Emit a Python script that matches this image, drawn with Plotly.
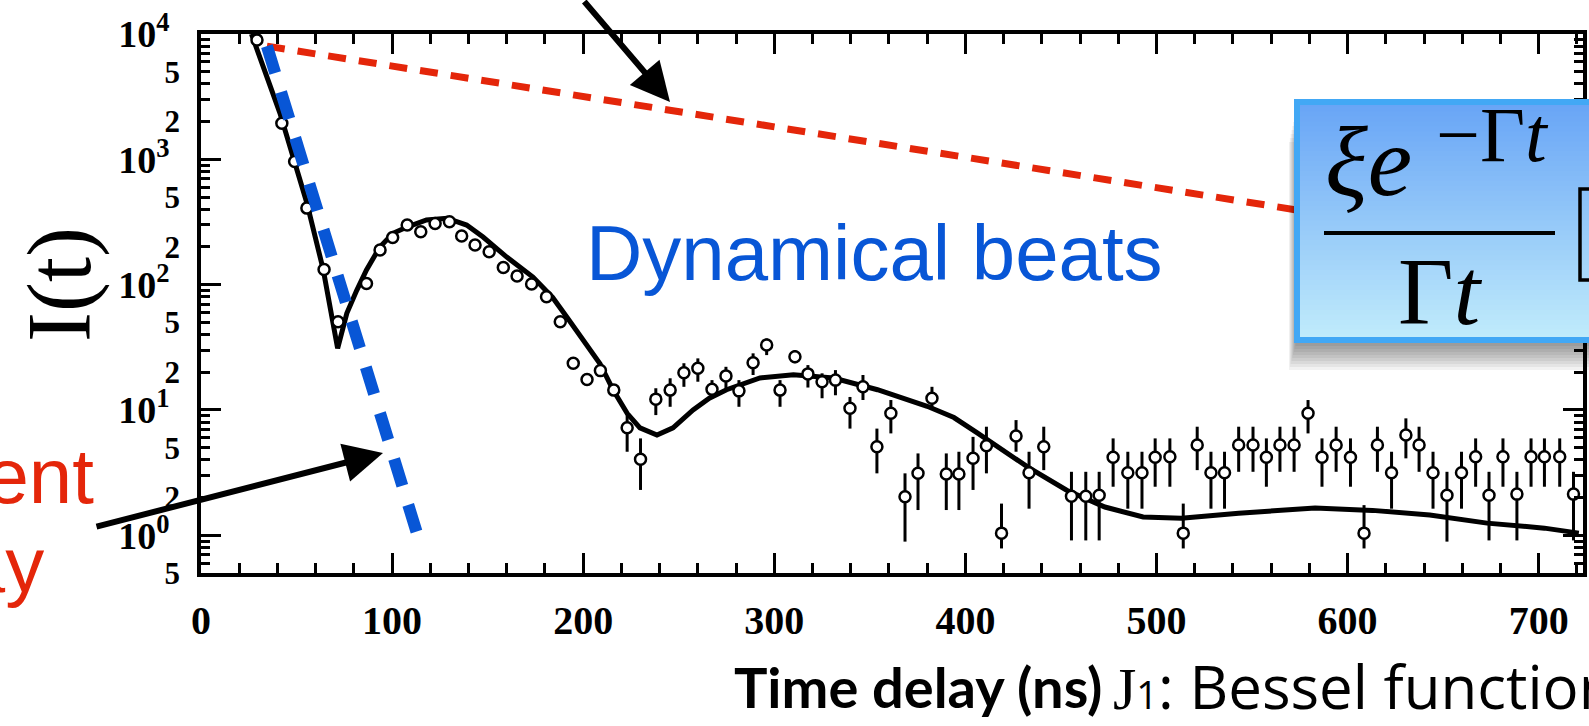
import math
import plotly.graph_objects as go

# ---------------- data ----------------
# fitted dynamical-beat curve (time delay in ns, intensity)
curve_t = [26.4, 41.3, 55.4, 64, 71.5, 76.3, 81.5, 86.6, 93.6, 100.5, 107.8, 118, 128.7,
           139, 147.6, 160, 173.7, 184, 191.5, 200, 208.8, 215.6, 223, 229.7, 238.6, 247,
           257.5, 266, 275, 292.5, 310, 331, 354, 380, 394, 406, 418, 432.7, 453, 473, 493, 513,
           543, 583, 613, 643, 673, 703, 721]
curve_I = [10000, 2340, 448, 131, 31, 59, 90, 131, 200, 257, 288, 328, 339,
           299, 240, 166, 115, 79, 55, 36, 23.4, 14.5, 9.4, 7.2, 6.3, 7.2,
           10, 12.4, 14.5, 18, 19.1, 18, 14.5, 10.7, 8.7, 6.6, 5.0, 3.5, 2.29, 1.68, 1.40, 1.37,
           1.50, 1.65, 1.58, 1.45, 1.25, 1.14, 1.04]

# early, high-count points (statistical errors smaller than the symbol)
t_fast = [29.3, 42.3, 49, 55.4, 64.4, 71.7, 86.6, 93.7, 100.3, 107.9, 115, 122.5, 130,
          136.4, 143.4, 150.8, 158.2, 165.4, 173, 180.8, 188, 194.8, 202, 209, 216]
I_fast = [8960, 1940, 960, 408, 132, 50.6, 102, 189, 238, 299, 264, 308, 318,
          244, 207, 183, 137, 117, 101, 80, 50.6, 23.6, 17.5, 20.6, 14.4]

# later points with error bars
t_slow = [223, 230, 238, 245.5, 252.7, 260, 267.4, 274.7, 281.5, 288.9, 296, 303, 310.8,
          317.6, 325, 332, 339.6, 346.4, 353.7, 361, 368.4, 375.2, 382.5, 390, 396.6, 404,
          411, 418.9, 426.5, 433.3, 441, 455.5, 463, 470, 477.3, 485, 492.4, 499.3, 507,
          514, 521.3, 528.5, 535.6, 543, 550.5, 557.5, 564.6, 572, 579.3, 586.6, 594,
          601.5, 608.6, 615.6, 623, 630.5, 637.4, 644.7, 652, 659.6, 667, 674, 681.3,
          688.6, 696, 703, 711, 718.2]
I_slow = [7.2, 4.04, 12.2, 14.4, 19.8, 21.5, 14.6, 18.7, 14.2, 23.8, 33, 14.4, 26.6,
          19.4, 16.8, 17.3, 10.3, 15.3, 5.08, 9.4, 2.03, 3.12, 12.4, 3.08, 3.08, 4.11,
          5.18, 1.04, 6.2, 3.15, 5.08, 2.05, 2.05, 2.09, 4.19, 3.15, 3.15, 4.19, 4.24,
          1.04, 5.25, 3.15, 3.15, 5.25, 5.25, 4.19, 5.25, 5.25, 9.4, 4.19, 5.25,
          4.19, 1.04, 5.25, 3.15, 6.3, 5.25, 3.15, 2.09, 3.15, 4.24, 2.09, 4.24,
          2.13, 4.24, 4.24, 4.24, 2.13]
I_slow_lo = [4.64, 2.3, 9.1, 10.6, 15.3, 16.8, 12.7, 14.9, 10.6, 19.0, 27.4, 10.6, 23.6,
             15.1, 12.4, 13.1, 7.1, 12.0, 3.12, 6.5, 0.89, 1.59, 10.3, 1.59, 1.59, 2.3,
             3.12, 0.785, 4.64, 1.63, 3.31, 0.91, 0.91, 0.91, 2.44, 1.63, 1.63, 2.44, 2.44,
             0.785, 3.31, 1.63, 1.63, 3.21, 3.21, 2.44, 3.21, 3.21, 6.5, 2.44, 3.21,
             2.44, 0.785, 3.21, 1.63, 4.11, 3.21, 1.63, 0.89, 1.63, 2.44, 0.91, 2.44,
             0.91, 2.44, 2.44, 2.44, 0.91]
I_slow_hi = [9.4, 5.93, 14.9, 17.9, 23.6, 25.8, 17.3, 22.1, 17.3, 28.3, 37.2, 17.3, 30.1,
             22.8, 19.6, 20.8, 12.7, 19.0, 7.1, 12.0, 3.12, 4.5, 15.3, 4.5, 4.64, 6.1,
             7.35, 1.79, 8.3, 4.64, 7.35, 3.21, 3.21, 3.21, 5.93, 4.64, 4.64, 5.93, 5.93,
             1.79, 7.35, 4.64, 4.64, 7.35, 7.35, 5.93, 7.35, 7.35, 12.0, 5.93, 7.35,
             5.93, 1.74, 7.35, 4.64, 8.57, 7.35, 4.64, 3.21, 4.64, 5.93, 3.21, 5.93,
             3.21, 5.93, 5.93, 5.93, 3.21]

# guide lines: natural (incoherent) decay and speeded-up coherent decay
incoh_t = [34.5, 573.5]
incoh_I = [8000, 394]
coh_t = [34.5, 113]
coh_I = [8000, 1.04]

# axis ticks
x_major = [0, 100, 200, 300, 400, 500, 600, 700]
y_decades = [1, 10, 100, 1000, 10000]
y_decade_text = ["10<sup>0</sup>", "10<sup>1</sup>", "10<sup>2</sup>", "10<sup>3</sup>", "10<sup>4</sup>"]
y_sub_vals = [0.5, 2, 5, 20, 50, 200, 500, 2000, 5000]
y_sub_text = ["5", "2", "5", "2", "5", "2", "5", "2", "5"]
y_minor = [0.5, 0.6, 0.7, 0.8, 0.9] + [m * 10 ** d for d in range(4) for m in range(2, 10)]

# ---------------- styling ----------------
W, H = 1589, 726
PL, PR, PT, PB = 201, 1583, 34, 573
RED = "rgb(228,38,10)"
BLUE = "rgb(8,86,214)"
SERIF = "Liberation Serif"
SANS = "Liberation Sans"


def fx(x):
    return (x - PL) / (PR - PL)


def fy(y):
    return (PB - y) / (PB - PT)


yr = [math.log10(0.5), 4]

fig = go.Figure()

fig.add_trace(go.Scatter(x=curve_t, y=curve_I, mode="lines",
                         line=dict(color="black", width=5, shape="linear"), showlegend=False))

fig.add_trace(go.Scatter(x=t_fast, y=I_fast, mode="markers",
                         marker=dict(symbol="circle", size=11, color="white",
                                     line=dict(color="black", width=2.5)),
                         showlegend=False))

err_up = [h - v for h, v in zip(I_slow_hi, I_slow)]
err_dn = [v - l for v, l in zip(I_slow, I_slow_lo)]
fig.add_trace(go.Scatter(x=t_slow, y=I_slow, mode="markers",
                         error_y=dict(type="data", symmetric=False, array=err_up,
                                      arrayminus=err_dn, color="black", thickness=3, width=0),
                         marker=dict(symbol="circle", size=11, color="white",
                                     line=dict(color="black", width=2.5)),
                         showlegend=False))

fig.add_trace(go.Scatter(x=incoh_t, y=incoh_I, mode="lines", yaxis="y2",
                         line=dict(color=RED, width=7, dash="18px,13px"), showlegend=False))
fig.add_trace(go.Scatter(x=coh_t, y=coh_I, mode="lines", yaxis="y2",
                         line=dict(color=BLUE, width=12, dash="28px,20px"), showlegend=False))

# ---------------- formula box (shadow, gradient fill, frame) ----------------
shapes = []
bx0, by0, bx1, by1 = 1297, 102, 1610, 340
for k in range(1, 11):
    shapes.append(dict(type="rect", xref="paper", yref="paper", layer="above",
                       x0=fx(bx0 - 0.8 * k), x1=fx(bx1), y0=fy(by0 + 4 * k), y1=fy(by1 + 3 * k),
                       fillcolor="rgba(0,0,0,0.05)", line=dict(width=0)))
top_c = (104, 165, 246)
bot_c = (192, 235, 251)
n_strip = 48
for i in range(n_strip):
    f = i / (n_strip - 1)
    c = tuple(int(round(a + (b - a) * f)) for a, b in zip(top_c, bot_c))
    ya = by0 + (by1 - by0) * i / n_strip
    yb = by0 + (by1 - by0) * (i + 1) / n_strip
    shapes.append(dict(type="rect", xref="paper", yref="paper", layer="above",
                       x0=fx(bx0), x1=fx(bx1), y0=fy(ya - 0.5), y1=fy(yb + 0.5),
                       fillcolor="rgb(%d,%d,%d)" % c, line=dict(width=0)))
shapes.append(dict(type="rect", xref="paper", yref="paper", layer="above",
                   x0=fx(bx0), x1=fx(bx1), y0=fy(by0), y1=fy(by1),
                   fillcolor="rgba(0,0,0,0)", line=dict(color="rgb(66,168,245)", width=6)))
# fraction bar
shapes.append(dict(type="line", xref="paper", yref="paper", layer="above",
                   x0=fx(1324), x1=fx(1555), y0=fy(233), y1=fy(233),
                   line=dict(color="black", width=4)))
# opening bracket of the Bessel term
shapes.append(dict(type="path", xref="paper", yref="paper", layer="above",
                   path="M %f,%f L %f,%f L %f,%f L %f,%f" % (
                       fx(1592), fy(189), fx(1580), fy(189), fx(1580), fy(280), fx(1592), fy(280)),
                   line=dict(color="black", width=3.5)))

# ---------------- annotations ----------------
ann = []


def txt(x, y, text, size, color="black", family=SANS, xanchor="center", angle=0, weight="normal"):
    ann.append(dict(xref="paper", yref="paper", x=fx(x), y=fy(y), text=text, showarrow=False,
                    xanchor=xanchor, yanchor="middle", textangle=angle,
                    font=dict(family=family, size=size, color=color, weight=weight)))


txt(60, 285, "I(t)", 90, family=SERIF, angle=-90)
txt(874, 253, "Dynamical beats", 78, color=BLUE)
txt(96, 476, "Coherent", 78, color=RED, xanchor="right")
txt(46, 565, "decay", 78, color=RED, xanchor="right")
txt(918, 686, "Time delay (ns)", 56, family="Lato", weight="bold")
txt(1111, 686, '<span style="font-family:Liberation Serif">J</span>'
               '<span style="font-size:38px">1</span>: Bessel function',
    60, family="Open Sans", xanchor="left")
# formula
txt(1368, 161, "<i>ξe</i>", 100, family=SERIF)
txt(1492, 134, "−Γ<i>t</i>", 78, family=SERIF)
txt(1440, 291, "Γ<i>t</i>", 96, family=SERIF)

# arrows
ann.append(dict(xref="paper", yref="paper", x=fx(670), y=fy(102), ax=583 - 670, ay=-5 - 102,
                text="", showarrow=True, arrowhead=2, arrowsize=1.3, arrowwidth=6,
                arrowcolor="black", standoff=0))
ann.append(dict(xref="paper", yref="paper", x=fx(383), y=fy(453), ax=95 - 383, ay=527 - 453,
                text="", showarrow=True, arrowhead=2, arrowsize=1.3, arrowwidth=6,
                arrowcolor="black", standoff=0))

fig.update_layout(
    width=W, height=H,
    margin=dict(l=PL, r=W - PR, t=PT, b=H - PB, pad=0),
    paper_bgcolor="white", plot_bgcolor="white",
    showlegend=False,
    xaxis=dict(range=[0, (PR - PL) / 1.911], showgrid=False, zeroline=False,
               showline=True, linecolor="black", linewidth=3.5, mirror="ticks",
               ticks="inside", ticklen=20, tickwidth=3, tickcolor="black",
               tickmode="array", tickvals=x_major, ticktext=[str(v) for v in x_major],
               tickfont=dict(family=SERIF, size=40, color="black", weight="bold"),
               ticklabelstandoff=9,
               minor=dict(dtick=20, ticks="inside", ticklen=10, tickwidth=2.5, tickcolor="black"),
               automargin=False),
    yaxis=dict(type="log", range=yr, showgrid=False, zeroline=False,
               showline=True, linecolor="black", linewidth=3.5, mirror="ticks",
               ticks="inside", ticklen=20, tickwidth=3, tickcolor="black",
               tickmode="array", tickvals=y_decades, ticktext=y_decade_text,
               tickfont=dict(family=SERIF, size=38, color="black", weight="bold"),
               ticklabelstandoff=20,
               minor=dict(tickmode="array", tickvals=y_minor, ticks="inside", ticklen=9,
                          tickwidth=2.5, tickcolor="black"),
               automargin=False),
    yaxis2=dict(type="log", range=yr, overlaying="y", side="left", anchor="x",
                showgrid=False, zeroline=False, showline=False, ticks="",
                tickmode="array", tickvals=y_sub_vals, ticktext=y_sub_text,
                tickfont=dict(family=SERIF, size=31, color="black", weight="bold"),
                ticklabelstandoff=20, automargin=False),
    shapes=shapes,
    annotations=ann,
)

fig.write_html("out.html")
